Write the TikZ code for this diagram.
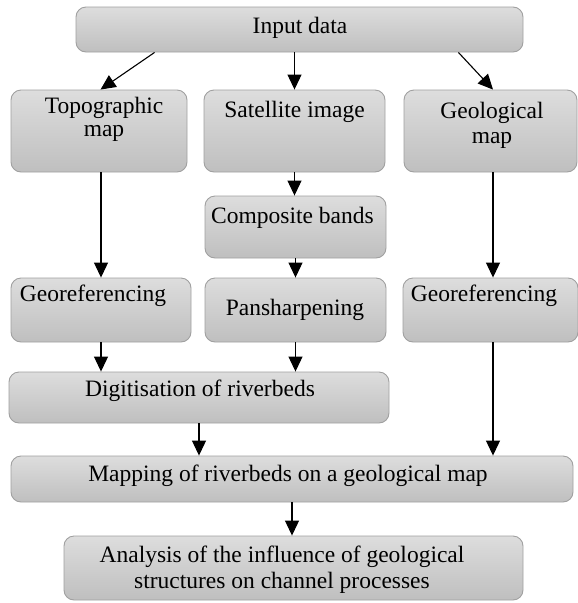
\documentclass[tikz,border=0pt]{standalone}
\usepackage{fontspec}
\setmainfont{Liberation Serif}
\usetikzlibrary{arrows.meta}
\definecolor{boxtop}{RGB}{221,221,221}
\definecolor{boxbot}{RGB}{191,191,191}
\definecolor{boxline}{RGB}{160,160,160}

\begin{document}
\begin{tikzpicture}[
		x=1pt, y=-1pt,
		every node/.style={font=\fontsize{23.5}{25}\selectfont},
		box/.style={draw=boxline, line width=0.9pt, rounded corners=10pt, top color=boxtop, bottom color=boxbot, inner sep=0pt},
		txt/.style={inner sep=0pt, anchor=base, align=center},
		arrow/.style={-{Triangle[length=15pt,width=14pt]}, line width=1.1pt}
		]
		\useasboundingbox (0,0) rectangle (578,603);
		
		% -------- Input --------
		\node[box, minimum width=447pt, minimum height=45pt] (input) at (299.5,29.5) {};
		\node[txt] (input-t) at (300,33.5) {Input data};
		
		% -------- Sources --------
		\node[box, minimum width=176pt, minimum height=82pt] (topo) at (99,131) {};
		\node[box, minimum width=181pt, minimum height=82pt] (sat) at (294.5,131) {};
		\node[box, minimum width=173pt, minimum height=82pt] (geo) at (490.5,131) {};
		\node[txt, font=\fontsize{23.5}{23}\selectfont] (topo-t) at (104,136) {Topographic\\map};
		\node[txt] (sat-t) at (294.5,117) {Satellite image};
		\node[txt] (geo-t) at (492,143) {Geological\\map};
		
		% -------- Processing --------
		\node[box, minimum width=181pt, minimum height=62pt] (comp) at (295.5,227) {};
		\node[txt] (comp-t) at (292.5,223) {Composite bands};
		
		\node[box, minimum width=180pt, minimum height=64pt] (georefL) at (101,310) {};
		\node[box, minimum width=181pt, minimum height=64pt] (pan) at (295.5,310) {};
		\node[box, minimum width=175pt, minimum height=64pt] (georefR) at (490.5,310) {};
		\node[txt] (georefL-t) at (93,301) {Georeferencing};
		\node[txt] (pan-t) at (295,315) {Pansharpening};
		\node[txt] (georefR-t) at (484,301) {Georeferencing};
		
		% -------- Results --------
		\node[box, minimum width=380pt, minimum height=51pt] (dig) at (199,397.5) {};
		\node[txt] (dig-t) at (200,396) {Digitisation of riverbeds};
		
		\node[box, minimum width=562pt, minimum height=46pt] (map) at (292,479) {};
		\node[txt] (map-t) at (288,481) {Mapping of riverbeds on a geological map};
		
		\node[box, minimum width=459pt, minimum height=64pt] (anal) at (293.5,568) {};
		\node[txt, font=\fontsize{23.5}{26}\selectfont] (anal-t) at (282,588) {Analysis of the influence of geological\\structures on channel processes};
		
		% ---- Input to sources ----
		\draw[arrow] ([xshift=79pt]input.south west) -- ([xshift=90pt]topo.north west);
		\draw[arrow] (input.south -| sat) -- (sat.north);
		\draw[arrow] ([xshift=-65pt]input.south east) -- ([xshift=2.5pt]geo.north);
		
		% ---- Vertical connections ----
		\draw[arrow] ([xshift=2pt]topo.south) -- ([xshift=2pt]topo.south |- georefL.north);
		\draw[arrow] (sat.south) -- (sat.south |- comp.north);
		\draw[arrow] (comp.south) -- (comp.south |- pan.north);
		\draw[arrow] ([xshift=2.5pt]geo.south) -- ([xshift=2.5pt]geo.south |- georefR.north);
		\draw[arrow] (georefL.south) -- (georefL.south |- dig.north);
		\draw[arrow] (pan.south) -- (pan.south |- dig.north);
		\draw[arrow] (dig.south) -- (dig.south |- map.north);
		\draw[arrow] ([xshift=2.5pt]georefR.south) -- ([xshift=2.5pt]georefR.south |- map.north);
		\draw[arrow] (map.south) -- (map.south |- anal.north);
		
	\end{tikzpicture}
\end{document}
